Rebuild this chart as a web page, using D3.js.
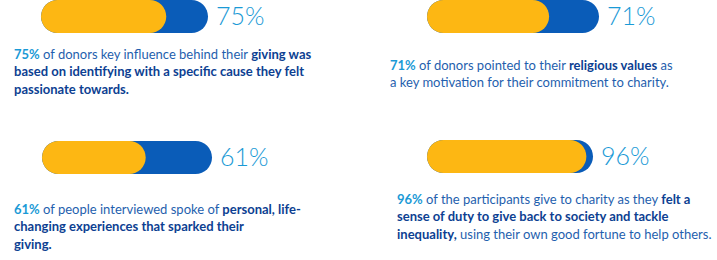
<!DOCTYPE html>
<html>
    <head>
        <style>
            body { margin: 0; background: #fff; }
            svg { display: block; }
            .pct { font-family: "Lato", sans-serif; font-weight: 300; fill: #1a9ad6; }
            .desc { font-family: "Lato", sans-serif; font-size: 13px; fill: #1f5fae; }
            .desc .b { font-weight: 700; fill: #0d3f92; }
            .desc .n { font-weight: 700; fill: #1a9ad6; }
        </style>
    </head>
    <body>
        <div id="chart"></div>
        <script src="https://cdnjs.cloudflare.com/ajax/libs/d3/7.8.5/d3.min.js"></script>
    <script>
        var values = [75, 71, 61, 96];
        // each line is a list of [text, style] pieces
        var captions = [
            [
                [["75%", "n"], [" of donors key influence behind their ", ""], ["giving was", "b"]],
                [["based on identifying with a specific cause they felt", "b"]],
                [["passionate towards.", "b"]]
            ],
            [
                [["71%", "n"], [" of donors pointed to their ", ""], ["religious values", "b"], [" as", ""]],
                [["a key motivation for their commitment to charity.", ""]]
            ],
            [
                [["61%", "n"], [" of people interviewed spoke of ", ""], ["personal, life-", "b"]],
                [["changing experiences that sparked their", "b"]],
                [["giving.", "b"]]
            ],
            [
                [["96%", "n"], [" of the participants give to charity as they ", ""], ["felt a", "b"]],
                [["sense of duty to give back to society and tackle", "b"]],
                [["inequality,", "b"], [" using their own good fortune to help others.", ""]]
            ]
        ];

        (function() {
            var width = 717, height = 260;

            var svg = d3.select("#chart")
                .append("svg")
                .attr("width", width)
                .attr("height", height);

            // panel placement
            var panels = [
                {bx: 41, by: 0, bw: 167, tx: 14, ty: 54},
                {bx: 427, by: 0, bw: 172, tx: 390, ty: 65},
                {bx: 42, by: 141, bw: 170, tx: 14, ty: 209},
                {bx: 427, by: 140, bw: 166, tx: 397, ty: 199}
            ];
            var barH = 33, lineH = 17.6;

            panels.forEach(function(p, i) {
                var x = d3.scaleLinear().domain([0, 100]).range([0, p.bw]);
                var g = svg.append("g").attr("transform", "translate(" + p.bx + "," + p.by + ")");

                g.append("rect")
                    .attr("width", x(100))
                    .attr("height", barH)
                    .attr("rx", barH / 2)
                    .attr("fill", "#0a5cb8");
                g.append("rect")
                    .attr("width", x(values[i]))
                    .attr("height", barH)
                    .attr("rx", barH / 2)
                    .attr("fill", "#fdb713");

                g.append("text")
                    .attr("class", "pct")
                    .attr("x", x(100) + 8)
                    .attr("y", barH / 2)
                    .attr("dy", "0.35em")
                    .attr("font-size", 25)
                    .text(values[i] + "%");

                var t = svg.append("text")
                    .attr("class", "desc")
                    .attr("transform", "translate(" + p.tx + "," + p.ty + ")");
                captions[i].forEach(function(line, li) {
                    line.forEach(function(piece, pi) {
                        var s = t.append("tspan")
                            .attr("class", piece[1] || null)
                            .text(piece[0]);
                        if (pi === 0) s.attr("x", 0).attr("y", li * lineH).attr("dy", "0.35em");
                    });
                });
            });
        })();
    </script>
    </body>
</html>
